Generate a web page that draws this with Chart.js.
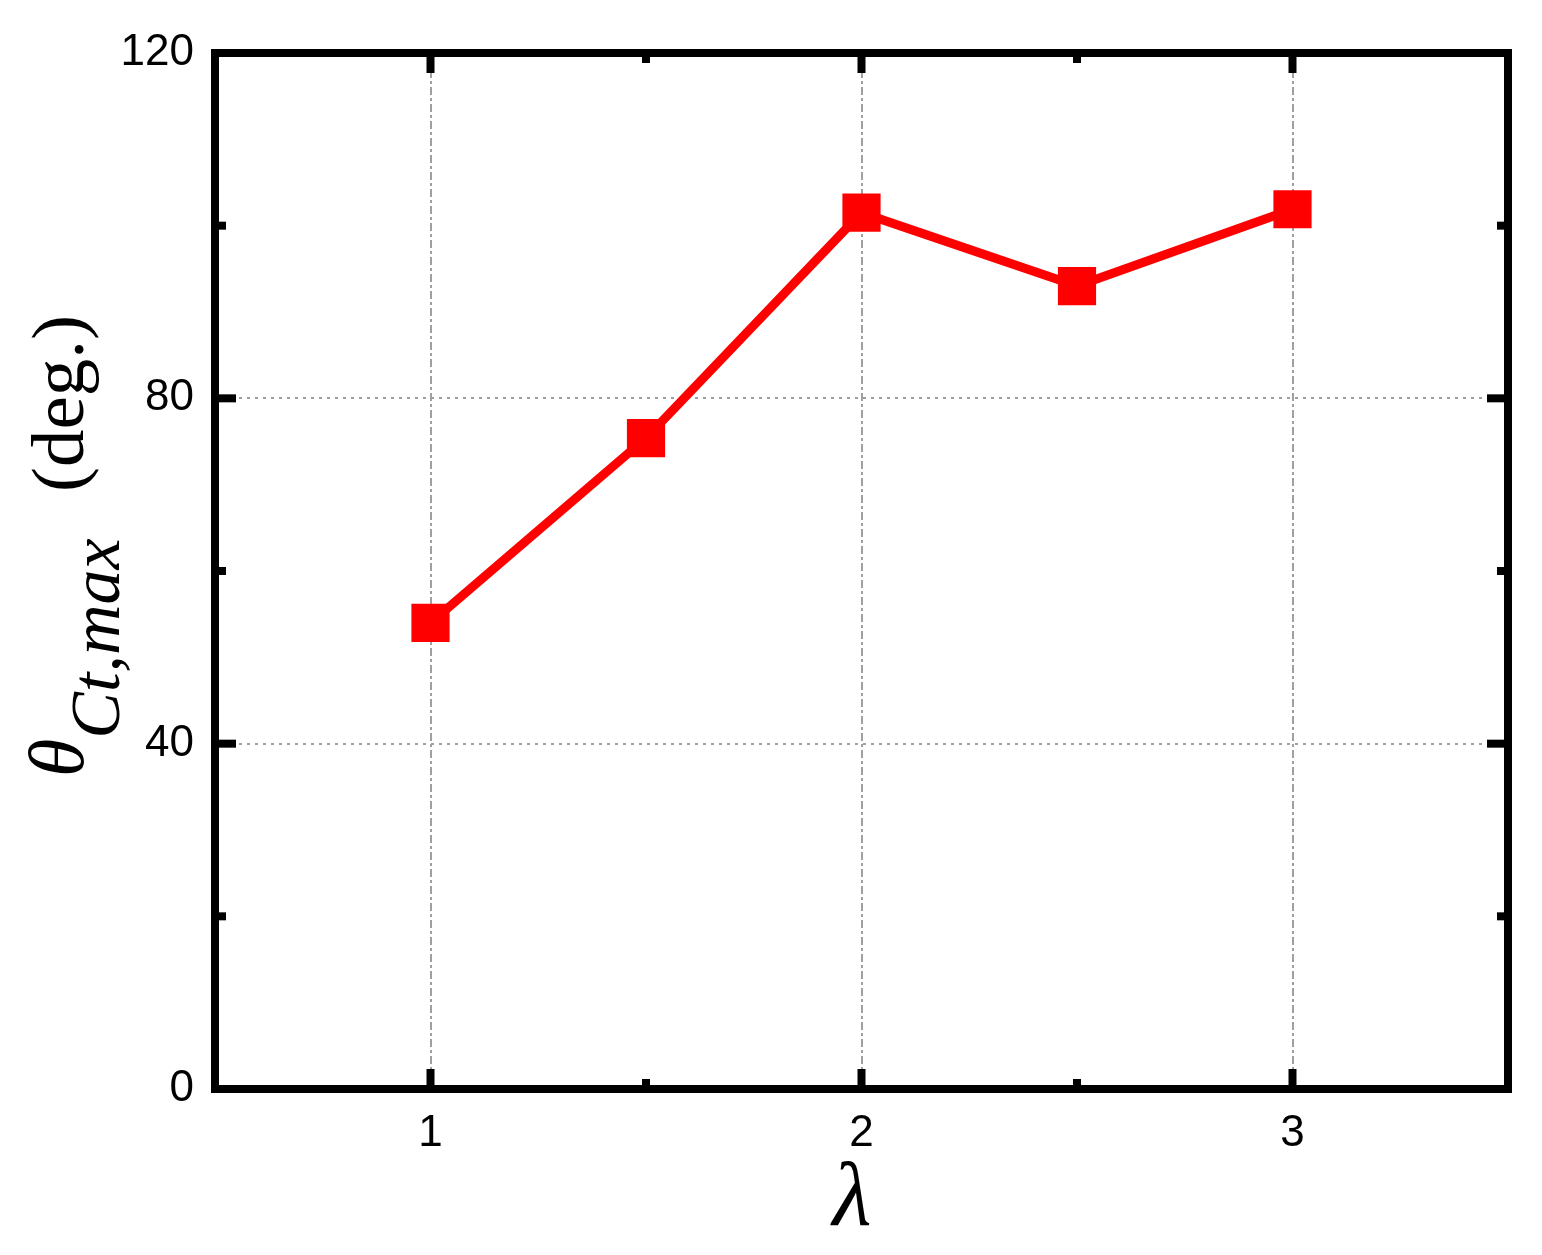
<!DOCTYPE html>
<html>
<head>
<meta charset="utf-8">
<script src="https://cdn.jsdelivr.net/npm/chart.js@4.4.1/dist/chart.umd.min.js"></script>
<style>
  html, body { margin: 0; padding: 0; background: #fff; }
  canvas { display: block; }
</style>
</head>
<body>
<canvas id="thetaChart" width="1542" height="1255"></canvas>
<script>
// data
const lambdaValues = [1, 1.5, 2, 2.5, 3];
const thetaValues = [54.0, 75.4, 101.5, 93.0, 101.9];

const xTickValues = [1, 2, 3];
const xMinorTicks = [1.5, 2.5];
const yTickValues = [0, 40, 80, 120];
const yMinorTicks = [20, 60, 100];
const xGridValues = [1, 2, 3];
const yGridValues = [40, 80];

const labelFont = '"Liberation Sans", Arial, sans-serif';
const serifFont = '"Liberation Serif", "Times New Roman", serif';

// dashed grid under the data
const gridPlugin = {
    id: 'grid',
    beforeDatasetsDraw(chart) {
        const { ctx, chartArea: a, scales: { x, y } } = chart;
        ctx.save();
        ctx.strokeStyle = '#a0a0a0';
        ctx.lineWidth = 2;
        ctx.setLineDash([8, 3, 3, 3]);
        xGridValues.forEach(v => {
            const px = Math.round(x.getPixelForValue(v));
            ctx.beginPath();
            ctx.moveTo(px, a.top);
            ctx.lineTo(px, a.bottom);
            ctx.stroke();
        });
        ctx.setLineDash([3, 5]);
        yGridValues.forEach(v => {
            const py = Math.round(y.getPixelForValue(v));
            ctx.beginPath();
            ctx.moveTo(a.left, py);
            ctx.lineTo(a.right, py);
            ctx.stroke();
        });
        ctx.restore();
    }
};

// thick frame with inward ticks on all four sides
const framePlugin = {
    id: 'frame',
    afterDatasetsDraw(chart) {
        const { ctx, chartArea: a, scales: { x, y } } = chart;
        ctx.save();
        ctx.strokeStyle = '#000';
        ctx.lineWidth = 8;
        ctx.lineJoin = 'miter';
        ctx.strokeRect(a.left, a.top, a.right - a.left, a.bottom - a.top);

        const tick = (x1, y1, x2, y2) => {
            ctx.beginPath();
            ctx.moveTo(x1, y1);
            ctx.lineTo(x2, y2);
            ctx.stroke();
        };
        const xt = (vals, len) => vals.forEach(v => {
            const px = x.getPixelForValue(v);
            tick(px, a.bottom, px, a.bottom - len);
            tick(px, a.top, px, a.top + len);
        });
        const yt = (vals, len) => vals.forEach(v => {
            const py = y.getPixelForValue(v);
            tick(a.left, py, a.left + len, py);
            tick(a.right, py, a.right - len, py);
        });
        xt(xTickValues, 20);
        xt(xMinorTicks, 10);
        yt(yTickValues, 21);
        yt(yMinorTicks, 11);
        ctx.restore();
    }
};

// axis titles with the subscript
const titlePlugin = {
    id: 'titles',
    afterDraw(chart) {
        const { ctx } = chart;
        ctx.save();
        ctx.fillStyle = '#000';
        ctx.textBaseline = 'alphabetic';

        // x title
        ctx.font = 'italic 90px ' + serifFont;
        ctx.textAlign = 'center';
        ctx.fillText('λ', 852, 1225);

        // y title, rotated
        ctx.translate(83, 777);
        ctx.rotate(-Math.PI / 2);
        ctx.textAlign = 'left';
        ctx.font = 'italic 78px ' + serifFont;
        ctx.fillText('θ', 0, 0);
        const w1 = ctx.measureText('θ').width;
        ctx.font = 'italic 70px ' + serifFont;
        ctx.fillText('Ct,max', w1, 36);
        ctx.font = '75px ' + serifFont;
        ctx.fillText('(deg.)', 285, 0);
        ctx.restore();
    }
};

new Chart(document.getElementById('thetaChart'), {
    type: 'line',
    data: {
        datasets: [{
            data: lambdaValues.map((v, i) => ({ x: v, y: thetaValues[i] })),
            borderColor: '#ff0000',
            borderWidth: 9,
            backgroundColor: '#ff0000',
            pointStyle: 'rect',
            pointRadius: 27,
            pointBorderWidth: 0,
            pointBackgroundColor: '#ff0000',
            tension: 0,
            fill: false
        }]
    },
    options: {
        responsive: false,
        animation: false,
        devicePixelRatio: 1,
        layout: { padding: { top: 53, right: 34, left: 0, bottom: 0 } },
        plugins: {
            legend: { display: false },
            tooltip: { enabled: false }
        },
        scales: {
            x: {
                type: 'linear',
                position: 'bottom',
                min: 0.5,
                max: 3.5,
                afterBuildTicks: s => { s.ticks = xTickValues.map(v => ({ value: v })); },
                afterFit: s => { s.height = 166; },
                grid: { display: false, drawTicks: false },
                border: { display: false },
                ticks: {
                    color: '#000',
                    font: { family: labelFont, size: 44 },
                    padding: 18,
                    maxRotation: 0,
                    autoSkip: false
                }
            },
            y: {
                type: 'linear',
                min: 0,
                max: 120,
                afterBuildTicks: s => { s.ticks = yTickValues.map(v => ({ value: v })); },
                afterFit: s => { s.width = 215; },
                grid: { display: false, drawTicks: false },
                border: { display: false },
                ticks: {
                    color: '#000',
                    font: { family: labelFont, size: 44 },
                    padding: 21
                }
            }
        }
    },
    plugins: [gridPlugin, framePlugin, titlePlugin]
});
</script>
</body>
</html>
